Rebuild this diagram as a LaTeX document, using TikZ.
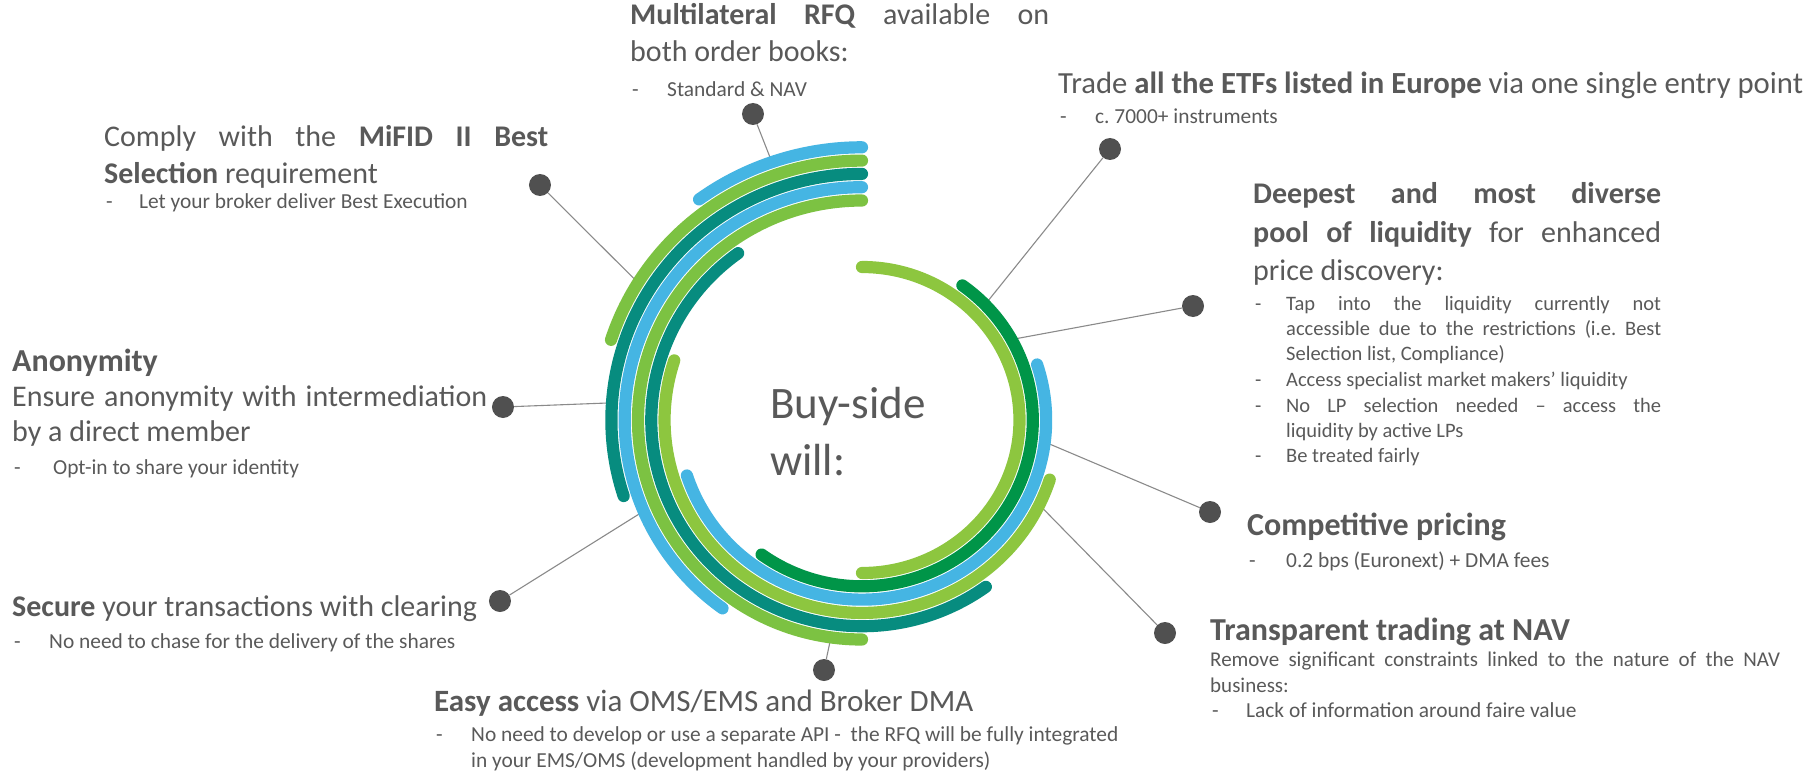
\documentclass[tikz,border=0pt]{standalone}
\usepackage{fontspec}
\setmainfont{Carlito}

\definecolor{txtgray}{HTML}{595959}
\definecolor{dotgray}{HTML}{505050}
\definecolor{leadgray}{HTML}{8A8A8A}
\definecolor{lgreen}{HTML}{8DC63F}
\definecolor{lgreendk}{HTML}{7CC242}
\definecolor{dgreen}{HTML}{009548}
\definecolor{tealring}{HTML}{078C7F}
\definecolor{skyring}{HTML}{45B5E3}

\newcommand{\hd}{\fontsize{30}{37}\selectfont}
\newcommand{\bt}{\fontsize{21.4}{26}\selectfont}
\newcommand{\justfix}{\spaceskip=0pt\xspaceskip=0pt\rightskip=0pt\leftskip=0pt\parfillskip=0pt plus 1fil\tolerance=9000\relax}
\newcommand{\bul}[2][36pt]{\par\hangindent=#1\hangafter=1\noindent\makebox[#1][l]{\hspace{2pt}-}#2\par}

\hyphenpenalty=10000
\exhyphenpenalty=10000
\frenchspacing

\tikzset{
  ring/.style={line width=12.2pt, line cap=round},
  dot/.style={circle, fill=dotgray, minimum size=22pt, inner sep=0pt},
  lead/.style={draw=leadgray, line width=1.1pt},
  txt/.style={anchor=base west, inner sep=0pt, text=txtgray, font=\hd, align=justify, execute at begin node=\justfix}
}

\begin{document}
\begin{tikzpicture}[x=1pt,y=1pt]
\useasboundingbox (-862,-357) rectangle (950,420);

\node[txt, text width=200pt, font=\fontsize{45}{57}\selectfont] (center) at (-92,2) {Buy-side\par will:\par};

\node[txt, text width=419pt] (multi) at (-232,395) {\textbf{Multilateral RFQ} available on\linebreak both order books:\par\vspace{9pt}\bt\bul[37pt]{Standard \& NAV}};

\node[txt, text width=800pt, font=\fontsize{30.7}{37}\selectfont] (etf) at (196,326) {Trade \textbf{all the ETFs listed in Europe} via one single entry point\par\vspace{4pt}\bt\bul[37pt]{c. 7000+ instruments}};

\node[txt, text width=444pt] (mifid) at (-758,273) {Comply with the \textbf{MiFID II Best}\linebreak\textbf{Selection} requirement\par\fontsize{21.4}{25}\selectfont\bul[35pt]{Let your broker deliver Best Execution}};

\node[txt, text width=408pt, font=\fontsize{30}{39}\selectfont] (deep) at (391,217) {\parskip=1pt\textbf{Deepest and most diverse}\linebreak\textbf{pool of liquidity} for enhanced\linebreak price discovery:\par\vspace{3pt}\fontsize{20.5}{25}\selectfont
  \bul[33pt]{Tap into the liquidity currently not\linebreak accessible due to the restrictions (i.e. Best\linebreak Selection list, Compliance)}
  \bul[33pt]{Access specialist market makers’ liquidity}
  \bul[33pt]{No LP selection needed -- access the\linebreak liquidity by active LPs}
  \bul[33pt]{Be treated fairly}};

\node[txt, text width=475pt, font=\fontsize{30}{35}\selectfont] (anon) at (-850,49) {{\fontsize{32}{35}\selectfont\textbf{Anonymity}}\par Ensure anonymity with intermediation\linebreak by a direct member\par\vspace{7pt}\bt\bul[41pt]{Opt-in to share your identity}};

\node[txt, text width=500pt, font=\fontsize{32}{37}\selectfont] (comp) at (385,-115) {\textbf{Competitive pricing}\par\vspace{6pt}\bt\bul[39pt]{0.2 bps (Euronext) + DMA fees}};

\node[txt, text width=600pt] (secure) at (-850,-196) {\textbf{Secure} your transactions with clearing\par\vspace{6pt}\bt\bul[37pt]{No need to chase for the delivery of the shares}};

\node[txt, text width=570pt, font=\fontsize{32}{37}\selectfont] (transp) at (348,-220) {\textbf{Transparent trading at NAV}\par\fontsize{21}{26}\selectfont Remove significant constraints linked to the nature of the NAV\linebreak business:\par\fontsize{21.4}{25}\selectfont\bul[36pt]{Lack of information around faire value}};

\node[txt, text width=760pt, font=\fontsize{31}{37}\selectfont] (easy) at (-428,-291) {\textbf{Easy access} via OMS/EMS and Broker DMA\par\vspace{4pt}\bt\bul[37pt]{No need to develop or use a separate API - \ the RFQ will be fully integrated\newline in your EMS/OMS (development handled by your providers)}};

\node[dot] (mifiddot) at (-322,235) {};
\node[dot] (multidot) at (-109,306) {};
\node[dot] (etfdot) at (248,271) {};
\node[dot] (deepdot) at (331,114) {};
\node[dot] (anondot) at (-359,13) {};
\node[dot] (compdot) at (348,-92) {};
\node[dot] (securedot) at (-362,-181) {};
\node[dot] (easydot) at (-38,-250) {};
\node[dot] (transpdot) at (303,-213) {};

\coordinate (mifidend) at (148:264 and 259);
\coordinate (multiend) at (109:277 and 273);
\coordinate (etfend) at (44:171 and 166);
\coordinate (deepend) at (29:171 and 166);
\coordinate (anonend) at (176:251 and 246);
\coordinate (compend) at (-7:184 and 180);
\coordinate (secureend) at (203:237 and 233);
\coordinate (easyend) at (262:224 and 220);
\coordinate (transpend) at (-26:197 and 193);

\foreach \a in {mifid, multi, etf, deep, anon, comp, secure, easy, transp}
  \draw[lead] (\a dot) -- (\a end);

\foreach \k/\sa/\ea/\col in {0/270/450/lgreen, 1/234/414/dgreen, 2/198/378/skyring, 3/162/342/lgreen, 4/126/306/tealring, 5/90/270/lgreendk, 6/90/234/skyring, 7/90/198/tealring, 8/90/162/lgreendk, 9/90/126/skyring}
{
  \pgfmathsetmacro\ry{153+13.3*\k}
  \pgfmathsetmacro\rx{\ry+4.5}
  \draw[ring, draw=\col] (\sa:{\rx} and {\ry}) arc[start angle=\sa, end angle=\ea, x radius=\rx, y radius=\ry];
}
\end{tikzpicture}
\end{document}
